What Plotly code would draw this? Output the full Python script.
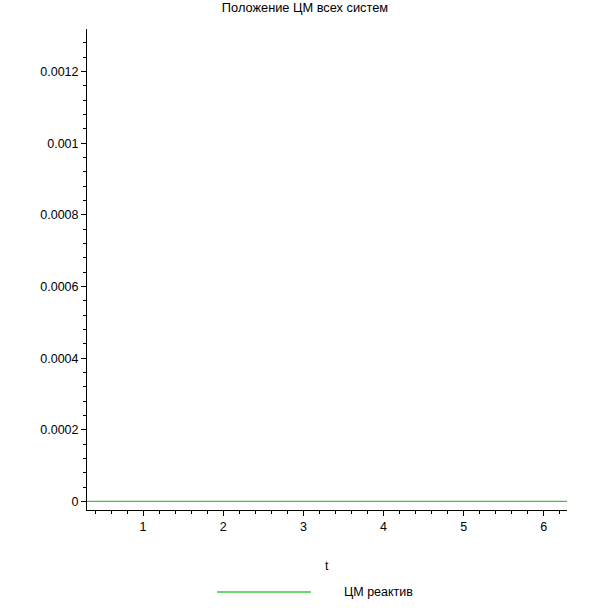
import plotly.graph_objects as go

# Data
t_values = [0.3, 1.0, 2.0, 3.0, 4.0, 5.0, 6.0, 6.3]
cm_reactiv = [0.0, 0.0, 0.0, 0.0, 0.0, 0.0, 0.0, 0.0]
series_name = "ЦМ реактив"
title_text = "Положение ЦМ всех систем"
x_label = "t"
x_tick_vals = [1, 2, 3, 4, 5, 6]
y_tick_vals = [0, 0.0002, 0.0004, 0.0006, 0.0008, 0.001, 0.0012]
y_tick_text = ["0", "0.0002", "0.0004", "0.0006", "0.0008", "0.001", "0.0012"]

GREEN = "rgb(60,200,60)"
FONT = dict(family="Liberation Sans, Arial, sans-serif", size=12.5, color="black")
TFONT = dict(family="Liberation Sans, Arial, sans-serif", size=12.8, color="black")

fig = go.Figure()
fig.add_trace(go.Scatter(x=t_values, y=cm_reactiv, mode="lines",
                         line=dict(color=GREEN, width=1.3),
                         name=series_name, showlegend=False))

L, R, T, B = 87, 43, 29, 100
fig.update_layout(
    width=610, height=610,
    margin=dict(l=L, r=R, t=T, b=B),
    paper_bgcolor="white", plot_bgcolor="white",
    font=FONT,
    title=dict(text=title_text, x=0.5, xref="container", y=1 - 8 / 610, yref="container",
               xanchor="center", yanchor="middle", font=TFONT),
    xaxis=dict(range=[0.3, 6.29], showgrid=False, zeroline=False,
               showline=True, linecolor="black", linewidth=1,
               ticks="outside", ticklen=5, tickcolor="black",
               tickvals=x_tick_vals, ticktext=[str(v) for v in x_tick_vals],
               minor=dict(dtick=0.2, tick0=0, ticks="outside", ticklen=3, tickcolor="black"),
               tickfont=FONT),
    yaxis=dict(range=[-0.000024, 0.001319], showgrid=False, zeroline=False,
               showline=True, linecolor="black", linewidth=1,
               ticks="outside", ticklen=5, tickcolor="black",
               tickvals=y_tick_vals, ticktext=y_tick_text,
               minor=dict(dtick=0.00004, tick0=0, ticks="outside", ticklen=3, tickcolor="black"),
               tickfont=FONT),
)

# axis title "t"
fig.add_annotation(text=x_label, xref="paper", yref="paper", x=0.5, y=0,
                   yshift=-56, showarrow=False, font=FONT,
                   xanchor="center", yanchor="middle")

# legend (drawn manually to match original layout)
plot_w = 610 - L - R
plot_h = 610 - T - B
leg_y = (610 - B - 592) / plot_h
fig.add_shape(type="line", xref="paper", yref="paper",
              x0=(217 - L) / plot_w, x1=(311 - L) / plot_w, y0=leg_y, y1=leg_y,
              line=dict(color=GREEN, width=1.3))
fig.add_annotation(text=series_name, xref="paper", yref="paper",
                   x=(342 - L) / plot_w, y=leg_y, showarrow=False, font=FONT,
                   xanchor="left", yanchor="middle")

fig.write_html("out.html")
